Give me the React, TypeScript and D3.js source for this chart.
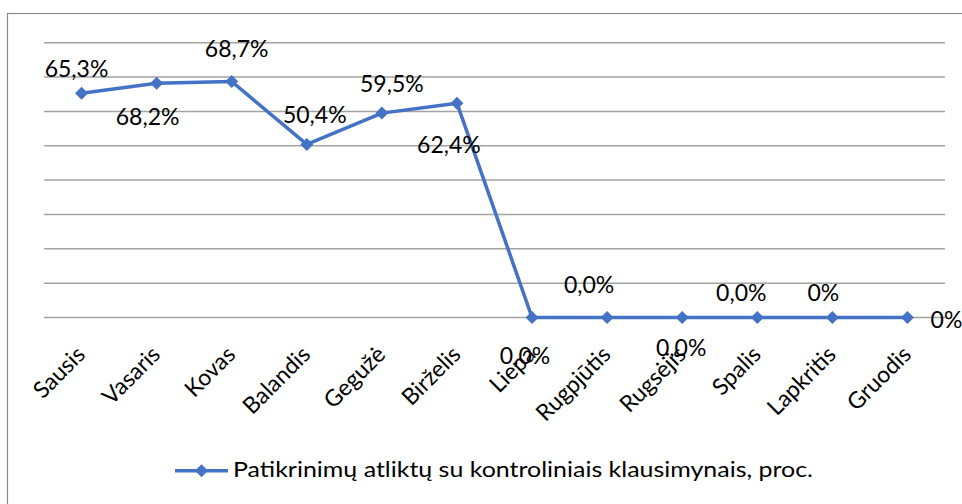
import * as d3 from "d3";

const months = [
  "Sausis",
  "Vasaris",
  "Kovas",
  "Balandis",
  "Gegužė",
  "Birželis",
  "Liepa",
  "Rugpjūtis",
  "Rugsėjis",
  "Spalis",
  "Lapkritis",
  "Gruodis",
];
const values = [65.3, 68.2, 68.7, 50.4, 59.5, 62.4, 0, 0, 0, 0, 0, 0];
const valueLabels = [
  "65,3%",
  "68,2%",
  "68,7%",
  "50,4%",
  "59,5%",
  "62,4%",
  "0,0%",
  "0,0%",
  "0,0%",
  "0,0%",
  "0%",
  "0%",
];
const yTicks = [0, 10, 20, 30, 40, 50, 60, 70, 80];
const seriesName = "Patikrinimų atliktų su kontroliniais klausimynais, proc.";

// label offsets from each point (hand placed in the original)
const labelOffsets: [number, number][] = [
  [-5, -16],
  [-9, 42],
  [5, -25],
  [8, -21],
  [10, -21],
  [-8, 50],
  [-7, 46],
  [-18, -25],
  [-1, 38],
  [-16, -17],
  [-9, -17],
  [39, 10],
];

const width = 962;
const height = 504;
const blue = "#4472C4";
const font = "Lato, 'Open Sans', sans-serif";

export default function App() {
  const x = d3.scaleBand().domain(months).range([44, 945]);
  const y = d3.scaleLinear().domain([0, 80]).range([317.5, 42.7]);
  const cx = (m: string) => (x(m) ?? 0) + x.bandwidth() / 2;

  const line = d3
    .line<number>()
    .x((_, i) => cx(months[i]))
    .y((d) => y(d));

  const diamond = (px: number, py: number, r: number) =>
    `M${px},${py - r}L${px + r},${py}L${px},${py + r}L${px - r},${py}Z`;

  return (
    <svg
      width={width}
      height={height}
      style={{ position: "fixed", left: 0, top: 0, background: "#fff" }}
    >
      {/* chart border */}
      <rect
        x={7.5}
        y={13.5}
        width={width + 10}
        height={height + 10}
        fill="none"
        stroke="#8c8c8c"
        strokeWidth={1.2}
      />

      {/* grid */}
      {yTicks.map((t) => (
        <line
          key={t}
          x1={44}
          x2={945}
          y1={y(t)}
          y2={y(t)}
          stroke="#a3a3a3"
          strokeWidth={1.5}
        />
      ))}

      {/* series */}
      <path
        d={line(values) ?? ""}
        fill="none"
        stroke={blue}
        strokeWidth={3.5}
        strokeLinejoin="round"
      />
      {values.map((v, i) => (
        <path key={i} d={diamond(cx(months[i]), y(v), 6.5)} fill={blue} />
      ))}

      {/* data labels */}
      {values.map((v, i) => (
        <text
          key={i}
          x={cx(months[i]) + labelOffsets[i][0]}
          y={y(v) + labelOffsets[i][1]}
          textAnchor="middle"
          fontFamily={font}
          fontSize={23}
          fill="#000"
        >
          {valueLabels[i]}
        </text>
      ))}

      {/* category axis */}
      {months.map((m) => (
        <text
          key={m}
          transform={`translate(${cx(m) + 5},${356}) rotate(-45)`}
          textAnchor="end"
          fontFamily={font}
          fontSize={23}
          fill="#000"
        >
          {m}
        </text>
      ))}

      {/* legend */}
      <line x1={175} x2={228} y1={470.7} y2={470.7} stroke={blue} strokeWidth={3.5} />
      <path d={diamond(201.5, 470.7, 6.5)} fill={blue} />
      <text
        x={233}
        y={477}
        fontFamily={font}
        fontSize={22}
        fill="#000"
        textLength={580}
        lengthAdjust="spacingAndGlyphs"
      >
        {seriesName}
      </text>
    </svg>
  );
}
